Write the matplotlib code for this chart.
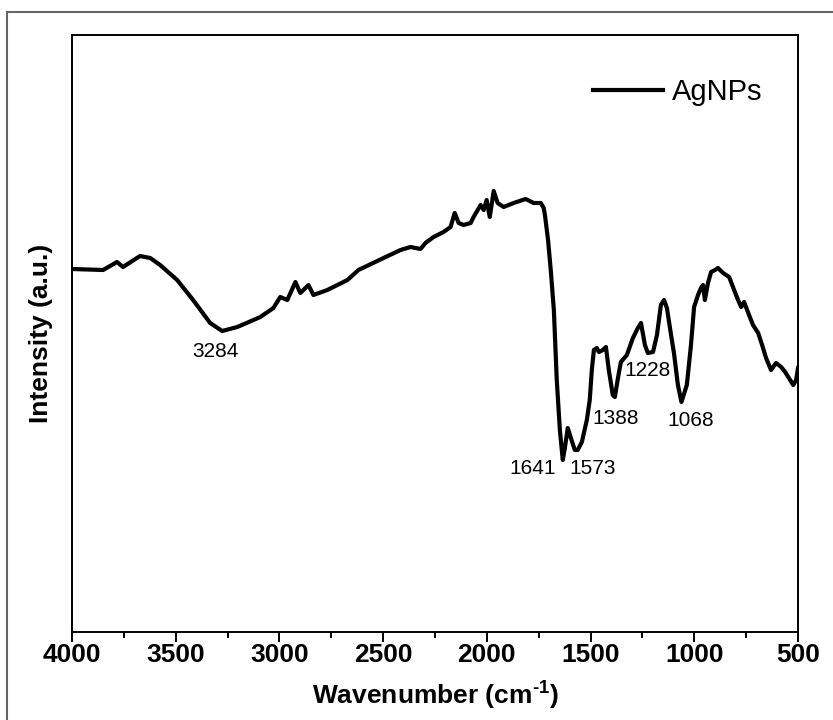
import matplotlib

matplotlib.use("Agg")
import matplotlib.pyplot as plt
from matplotlib.patches import Rectangle
from matplotlib.ticker import MultipleLocator

plt.rcParams["font.family"] = ["Liberation Sans", "DejaVu Sans"]
plt.rcParams["mathtext.fontset"] = "custom"
plt.rcParams["mathtext.rm"] = "Liberation Sans:bold"
plt.rcParams["mathtext.bf"] = "Liberation Sans:bold"
plt.rcParams["mathtext.it"] = "Liberation Sans:bold:italic"

# FTIR spectrum of AgNPs (intensity in a.u.)
wavenumber = [
    4000, 3850, 3783, 3754, 3672, 3623, 3575, 3493, 3416, 3334, 3276, 3203,
    3092, 3029, 2996, 2962, 2923, 2899, 2860, 2836, 2769, 2672, 2619, 2498,
    2416, 2368, 2320, 2296, 2257, 2209, 2175, 2155, 2136, 2112, 2078, 2064,
    2030, 2015, 2001, 1986, 1967, 1948, 1919, 1871, 1813, 1774, 1740, 1726,
    1720, 1705, 1692, 1677, 1663, 1648, 1634, 1624, 1610, 1595, 1576, 1562,
    1542, 1518, 1504, 1494, 1484, 1470, 1460, 1441, 1426, 1412, 1393, 1383,
    1368, 1354, 1325, 1296, 1272, 1257, 1238, 1224, 1199, 1180, 1161, 1146,
    1132, 1112, 1098, 1079, 1062, 1036, 1016, 1001, 982, 968, 958, 949,
    934, 919, 900, 886, 861, 832, 808, 789, 774, 760, 736, 717,
    692, 673, 654, 630, 606, 581, 562, 538, 523, 509, 500,
]
intensity = [
    363, 362, 370, 365, 376, 374, 367, 352, 332, 309, 301, 305,
    315, 324, 335, 332, 350, 339, 347, 337, 342, 352, 362, 374,
    382, 385, 383, 389, 395, 400, 405, 419, 409, 407, 409, 415,
    427, 422, 432, 415, 441, 429, 425, 429, 433, 429, 429, 424,
    417, 392, 362, 322, 252, 202, 172, 184, 204, 194, 182, 182,
    190, 212, 232, 262, 282, 284, 280, 282, 285, 262, 237, 235,
    254, 270, 277, 294, 304, 309, 287, 279, 280, 297, 327, 332,
    324, 297, 279, 247, 230, 247, 287, 325, 337, 344, 347, 332,
    349, 360, 362, 364, 359, 355, 342, 332, 325, 330, 317, 307,
    299, 287, 274, 262, 269, 265, 260, 252, 247, 252, 264,
]

# peak labels and where they sit
peak_text = ["3284", "1641", "1573", "1388", "1228", "1068"]
peak_x = [3310, 1779, 1489, 1378, 1224, 1016]
peak_y = [281, 164, 164, 214, 262, 212]

fig = plt.figure(figsize=(8.33, 7.2), dpi=100)
ax = fig.add_axes([0.0864, 0.1222, 0.8716, 0.8292])

ax.plot(wavenumber, intensity, color="black", linewidth=3.0, label="AgNPs",
        solid_joinstyle="round")

for t, x, y in zip(peak_text, peak_x, peak_y):
    ax.text(x, y, t, fontsize=15, ha="center", va="center")

ax.set_xlim(4000, 500)
ax.set_ylim(0, 597)
ax.xaxis.set_major_locator(MultipleLocator(500))
ax.xaxis.set_minor_locator(MultipleLocator(250))
ax.tick_params(axis="x", which="major", direction="out", length=7, width=1.4,
               labelsize=19, pad=1)
ax.tick_params(axis="x", which="minor", direction="out", length=4, width=1.4)
ax.tick_params(axis="y", left=False, labelleft=False)
for lab in ax.get_xticklabels():
    lab.set_fontweight("bold")
for s in ax.spines.values():
    s.set_linewidth(1.4)

ax.set_xlabel("Wavenumber (cm$^{\\text{-}1}$)", fontsize=19,
              fontweight="bold", labelpad=9)
ax.set_ylabel("Intensity (a.u.)", fontsize=19, fontweight="bold", labelpad=14)

ax.legend(loc="center left", bbox_to_anchor=(0.698, 0.9045), frameon=False,
          fontsize=21, borderpad=0, handlelength=2.4, handletextpad=0.28)

# thin grey frame around the whole figure
fig.patches.append(Rectangle((7 / 833, -0.05), 1.0, 1.05 - 12 / 720,
                             transform=fig.transFigure, fill=False,
                             edgecolor="#666666", linewidth=1.5))

fig.savefig("out.png", dpi=100)
